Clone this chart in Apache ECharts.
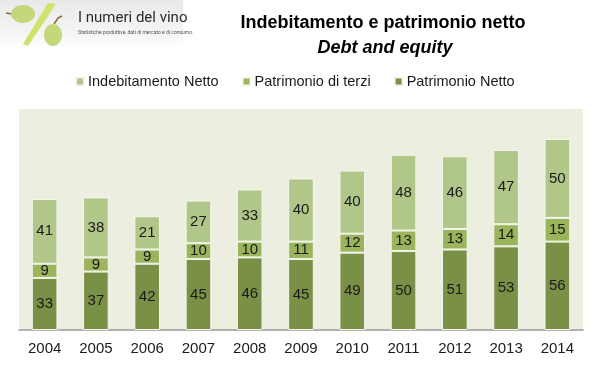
<!DOCTYPE html>
<html>
<head>
<meta charset="utf-8">
<script src="https://cdn.jsdelivr.net/npm/echarts@6/dist/echarts.min.js"></script>
<style>
html,body{margin:0;padding:0;background:#fff;}
#c{width:597px;height:386px;}
</style>
</head>
<body>
<div id="c"></div>
<script>
var years = ['2004','2005','2006','2007','2008','2009','2010','2011','2012','2013','2014'];
var patrimonioNetto = [33,37,42,45,46,45,49,50,51,53,56];
var patrimonioTerzi = [9,9,9,10,10,11,12,13,13,14,15];
var indebitamentoNetto = [41,38,21,27,33,40,40,48,46,47,50];
var totals = [84,84,73,81,89,96,100,110,110,114,121];

var stackTop = years.map(function(_, i){
  return patrimonioNetto[i] + patrimonioTerzi[i] + indebitamentoNetto[i];
});

var cDark = '#7b9047', cMid = '#9bb55c', cLight = '#b1c78a';
var font = 'Liberation Sans, Arial, sans-serif';

var chart = echarts.init(document.getElementById('c'), null, {renderer:'canvas'});
var segLabel = {show:true, position:'inside', color:'#1a1a1a', fontSize:15, fontFamily:font};

chart.setOption({
  animation:false,
  backgroundColor:'#ffffff',
  title:[
    {text:'Indebitamento e patrimonio netto', left:378, top:9, textAlign:'center',
     textStyle:{fontFamily:font, fontSize:18, fontWeight:'bold', color:'#000'}},
    {text:'Debt and equity', left:380, top:34, textAlign:'center',
     textStyle:{fontFamily:font, fontSize:18, fontWeight:'bold', fontStyle:'italic', color:'#000'}}
  ],
  legend:{
    data:['Indebitamento Netto','Patrimonio di terzi','Patrimonio Netto'],
    top:69, left:70, itemWidth:8, itemHeight:8, itemGap:23, icon:'rect',
    textStyle:{fontFamily:font, fontSize:14.5, color:'#1a1a1a', padding:[0,0,0,-1]}
  },
  grid:{left:19, right:14, top:109, bottom:56, show:true, backgroundColor:'#ecefe0', borderWidth:0},
  xAxis:{
    type:'category', data:years,
    axisLine:{lineStyle:{color:'#9a9a9a', width:1.5}},
    axisTick:{show:false},
    axisLabel:{fontFamily:font, fontSize:15, color:'#1a1a1a', margin:11}
  },
  yAxis:{type:'value', min:0, max:140, show:false, splitLine:{show:false}},
  series:[
    {name:'Patrimonio Netto', type:'bar', stack:'s', data:patrimonioNetto, barWidth:'50%',
     itemStyle:{color:cDark, borderColor:'#f4f6ec', borderWidth:1}, label:segLabel},
    {name:'Patrimonio di terzi', type:'bar', stack:'s', data:patrimonioTerzi,
     itemStyle:{color:cMid, borderColor:'#f4f6ec', borderWidth:1}, label:segLabel},
    {name:'Indebitamento Netto', type:'bar', stack:'s', data:indebitamentoNetto,
     itemStyle:{color:cLight, borderColor:'#f4f6ec', borderWidth:1}, label:segLabel},
    {name:'Totale', type:'line', data:stackTop, symbol:'none', lineStyle:{opacity:0}, silent:true,
     label:{show:true, position:'top', distance:11, color:'#1a1a1a', fontSize:15, fontFamily:font,
       formatter:function(p){return totals[p.dataIndex];}}}
  ],
  graphic:[
    {type:'rect', left:0, top:0, shape:{width:183, height:48}, z:0,
     style:{fill:new echarts.graphic.LinearGradient(0,0,0,1,[{offset:0,color:'#e9e9e9'},{offset:0.7,color:'#f5f5f5'},{offset:1,color:'#ffffff'}])}},
    {type:'line', shape:{x1:6,y1:13,x2:12,y2:14}, style:{stroke:'#8a6a3a', lineWidth:1.5}, z:1},
    {type:'ellipse', shape:{cx:23, cy:14, rx:12, ry:9}, style:{fill:'#c3d87a'}, z:2},
    {type:'polygon', shape:{points:[[48,3],[56,4],[28,46],[23,44]]}, style:{fill:'#cfe36a'}, z:3},
    {type:'polyline', shape:{points:[[54,24],[58,18],[62,16]]}, style:{stroke:'#8a6a3a', lineWidth:1.5, fill:null}, z:3},
    {type:'ellipse', shape:{cx:53, cy:35, rx:9, ry:11}, style:{fill:'#c3d87a'}, z:4},
    {type:'text', left:78, top:11, style:{text:'I numeri del vino', font:'15px Roboto, sans-serif', fill:'#2b2b2b'}, z:5},
    {type:'text', left:78, top:30, style:{text:'Statistiche produttive, dati di mercato e di consumo.', font:'5px Roboto, sans-serif', fill:'#555'}, z:5}
  ]
});
</script>
</body>
</html>
